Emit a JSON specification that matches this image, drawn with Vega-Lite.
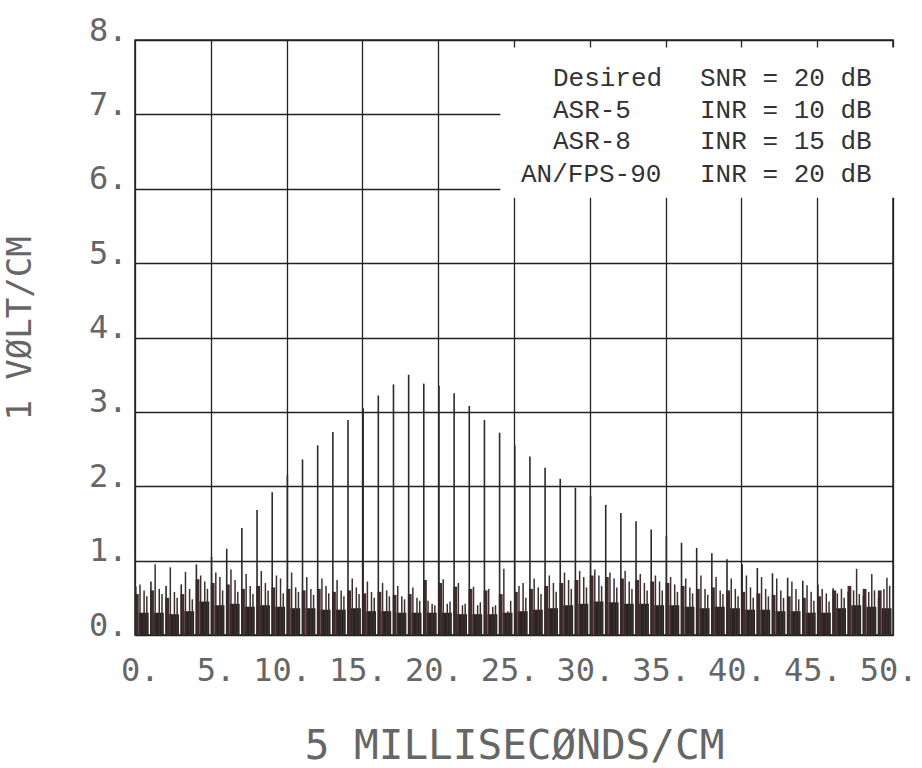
{
  "$schema": "https://vega.github.io/schema/vega-lite/v6.json",
  "width": 758,
  "height": 595,
  "autosize": {"type": "none"},
  "padding": {"left": 135, "top": 40, "right": 29, "bottom": 133},
  "background": "white",
  "config": {
    "view": {"stroke": "#222", "strokeWidth": 1.5},
    "axis": {
      "grid": true, "gridColor": "#222", "gridWidth": 1.3, "gridOpacity": 1,
      "domain": false, "ticks": false,
      "labelFont": "DejaVu Sans Mono", "labelFontSize": 32, "labelColor": "#666",
      "titleFont": "DejaVu Sans Mono", "titleColor": "#666", "titleFontWeight": "normal",
      "labelFlush": false, "labelOverlap": false, "labelBound": false
    }
  },
  "datasets": {
    "desired": [
      {"x":0.05,"y":0.65},{"x":1.05,"y":0.72},{"x":2.05,"y":0.66},{"x":3.05,"y":0.68},{"x":4.05,"y":0.95},{"x":5.05,"y":1.05},{"x":6.05,"y":1.16},{"x":7.05,"y":1.44},{"x":8.05,"y":1.68},{"x":9.05,"y":1.92},{"x":10.05,"y":2.15},{"x":11.05,"y":2.36},{"x":12.05,"y":2.55},{"x":13.05,"y":2.73},{"x":14.05,"y":2.89},{"x":15.05,"y":3.05},{"x":16.05,"y":3.22},{"x":17.05,"y":3.37},{"x":18.05,"y":3.5},{"x":19.05,"y":3.38},{"x":20.05,"y":3.35},{"x":21.05,"y":3.25},{"x":22.05,"y":3.08},{"x":23.05,"y":2.89},{"x":24.05,"y":2.72},{"x":25.05,"y":2.55},{"x":26.05,"y":2.4},{"x":27.05,"y":2.25},{"x":28.05,"y":2.1},{"x":29.05,"y":1.98},{"x":30.05,"y":1.87},{"x":31.05,"y":1.75},{"x":32.05,"y":1.64},{"x":33.05,"y":1.53},{"x":34.05,"y":1.42},{"x":35.05,"y":1.33},{"x":36.05,"y":1.24},{"x":37.05,"y":1.17},{"x":38.05,"y":1.1},{"x":39.05,"y":1.02},{"x":40.05,"y":0.95},{"x":41.05,"y":0.9},{"x":42.05,"y":0.83},{"x":43.05,"y":0.77},{"x":44.05,"y":0.73},{"x":45.05,"y":0.68},{"x":46.05,"y":0.63},{"x":47.05,"y":0.58},{"x":48.05,"y":0.53},{"x":49.05,"y":0.5}
    ],
    "spikes": [
      {"x":0.33,"y":0.68},{"x":0.6,"y":0.6},{"x":1.33,"y":0.95},{"x":1.6,"y":0.62},{"x":2.33,"y":0.91},{"x":2.6,"y":0.58},{"x":3.33,"y":0.85},{"x":3.6,"y":0.62},{"x":4.33,"y":0.8},{"x":4.6,"y":0.72},
      {"x":5.33,"y":0.84},{"x":5.6,"y":0.78},{"x":6.33,"y":0.88},{"x":6.6,"y":0.74},{"x":7.33,"y":0.82},{"x":7.6,"y":0.66},{"x":8.33,"y":0.86},{"x":8.6,"y":0.7},{"x":9.33,"y":0.8},{"x":9.6,"y":0.76},
      {"x":10.33,"y":0.84},{"x":10.6,"y":0.64},{"x":11.33,"y":0.78},{"x":11.6,"y":0.62},{"x":12.33,"y":0.76},{"x":12.6,"y":0.66},{"x":13.33,"y":0.74},{"x":13.6,"y":0.6},{"x":14.33,"y":0.76},{"x":14.6,"y":0.64},
      {"x":15.33,"y":0.72},{"x":15.6,"y":0.58},{"x":16.33,"y":0.7},{"x":16.6,"y":0.6},{"x":17.33,"y":0.66},{"x":17.6,"y":0.52},{"x":18.33,"y":0.64},{"x":18.6,"y":0.5},{"x":19.33,"y":0.46},{"x":19.6,"y":0.42},
      {"x":20.33,"y":0.75},{"x":20.6,"y":0.42},{"x":21.33,"y":0.7},{"x":21.6,"y":0.4},{"x":22.33,"y":0.65},{"x":22.6,"y":0.4},{"x":23.33,"y":0.62},{"x":23.6,"y":0.38},{"x":24.33,"y":0.89},{"x":24.6,"y":0.32},
      {"x":25.33,"y":0.66},{"x":25.6,"y":0.7},{"x":26.33,"y":0.76},{"x":26.6,"y":0.64},{"x":27.33,"y":0.8},{"x":27.6,"y":0.7},{"x":28.33,"y":0.84},{"x":28.6,"y":0.74},{"x":29.33,"y":0.86},{"x":29.6,"y":0.78},
      {"x":30.33,"y":0.88},{"x":30.6,"y":0.8},{"x":31.33,"y":0.84},{"x":31.6,"y":0.76},{"x":32.33,"y":0.86},{"x":32.6,"y":0.72},{"x":33.33,"y":0.82},{"x":33.6,"y":0.7},{"x":34.33,"y":0.8},{"x":34.6,"y":0.72},
      {"x":35.33,"y":0.78},{"x":35.6,"y":0.68},{"x":36.33,"y":0.76},{"x":36.6,"y":0.64},{"x":37.33,"y":0.8},{"x":37.6,"y":0.62},{"x":38.33,"y":0.78},{"x":38.6,"y":0.6},{"x":39.33,"y":0.76},{"x":39.6,"y":0.62},
      {"x":40.33,"y":0.8},{"x":40.6,"y":0.64},{"x":41.33,"y":0.78},{"x":41.6,"y":0.62},{"x":42.33,"y":0.76},{"x":42.6,"y":0.6},{"x":43.33,"y":0.72},{"x":43.6,"y":0.62},{"x":44.33,"y":0.67},{"x":44.6,"y":0.58},
      {"x":45.33,"y":0.62},{"x":45.6,"y":0.56},{"x":46.33,"y":0.56},{"x":46.6,"y":0.62},{"x":47.6,"y":0.89},{"x":47.4,"y":0.6},{"x":48.6,"y":0.82},{"x":48.4,"y":0.58},{"x":49.6,"y":0.77},{"x":49.4,"y":0.62},
      {"x":0.78,"y":0.52},{"x":1.78,"y":0.55},{"x":2.78,"y":0.5},{"x":3.78,"y":0.48},{"x":4.78,"y":0.62},{"x":5.78,"y":0.6},{"x":6.78,"y":0.58},{"x":7.78,"y":0.55},{"x":8.78,"y":0.6},{"x":9.78,"y":0.56},
      {"x":10.78,"y":0.58},{"x":11.78,"y":0.54},{"x":12.78,"y":0.56},{"x":13.78,"y":0.52},{"x":14.78,"y":0.55},{"x":15.78,"y":0.5},{"x":16.78,"y":0.52},{"x":17.78,"y":0.48},{"x":18.78,"y":0.46},{"x":19.78,"y":0.4},
      {"x":20.78,"y":0.45},{"x":21.78,"y":0.42},{"x":22.78,"y":0.44},{"x":23.78,"y":0.4},{"x":24.78,"y":0.46},{"x":25.78,"y":0.5},{"x":26.78,"y":0.55},{"x":27.78,"y":0.58},{"x":28.78,"y":0.62},{"x":29.78,"y":0.64},
      {"x":30.78,"y":0.66},{"x":31.78,"y":0.64},{"x":32.78,"y":0.62},{"x":33.78,"y":0.6},{"x":34.78,"y":0.6},{"x":35.78,"y":0.58},{"x":36.78,"y":0.56},{"x":37.78,"y":0.54},{"x":38.78,"y":0.55},{"x":39.78,"y":0.52},
      {"x":40.78,"y":0.5},{"x":41.78,"y":0.52},{"x":42.78,"y":0.5},{"x":43.78,"y":0.48},{"x":44.78,"y":0.46},{"x":45.78,"y":0.45},{"x":46.78,"y":0.5},{"x":47.78,"y":0.55},{"x":48.78,"y":0.6},{"x":49.78,"y":0.66}
    ],
    "blocks": [
      {"x":0.0,"x2":0.25,"y":0.55,"t":"h"},{"x":0.25,"x2":0.9,"y":0.3,"t":"l"},
      {"x":1.0,"x2":1.25,"y":0.6,"t":"h"},{"x":1.25,"x2":1.9,"y":0.3,"t":"l"},
      {"x":2.0,"x2":2.25,"y":0.5,"t":"h"},{"x":2.25,"x2":2.9,"y":0.28,"t":"l"},
      {"x":3.0,"x2":3.25,"y":0.55,"t":"h"},{"x":3.25,"x2":3.9,"y":0.32,"t":"l"},
      {"x":4.0,"x2":4.25,"y":0.75,"t":"h"},{"x":4.25,"x2":4.9,"y":0.45,"t":"l"},
      {"x":5.0,"x2":5.25,"y":0.7,"t":"h"},{"x":5.25,"x2":5.9,"y":0.4,"t":"l"},
      {"x":6.0,"x2":6.25,"y":0.68,"t":"h"},{"x":6.25,"x2":6.9,"y":0.42,"t":"l"},
      {"x":7.0,"x2":7.25,"y":0.62,"t":"h"},{"x":7.25,"x2":7.9,"y":0.38,"t":"l"},
      {"x":8.0,"x2":8.25,"y":0.66,"t":"h"},{"x":8.25,"x2":8.9,"y":0.4,"t":"l"},
      {"x":9.0,"x2":9.25,"y":0.64,"t":"h"},{"x":9.25,"x2":9.9,"y":0.38,"t":"l"},
      {"x":10.0,"x2":10.25,"y":0.62,"t":"h"},{"x":10.25,"x2":10.9,"y":0.36,"t":"l"},
      {"x":11.0,"x2":11.25,"y":0.6,"t":"h"},{"x":11.25,"x2":11.9,"y":0.36,"t":"l"},
      {"x":12.0,"x2":12.25,"y":0.62,"t":"h"},{"x":12.25,"x2":12.9,"y":0.34,"t":"l"},
      {"x":13.0,"x2":13.25,"y":0.58,"t":"h"},{"x":13.25,"x2":13.9,"y":0.34,"t":"l"},
      {"x":14.0,"x2":14.25,"y":0.6,"t":"h"},{"x":14.25,"x2":14.9,"y":0.36,"t":"l"},
      {"x":15.0,"x2":15.25,"y":0.56,"t":"h"},{"x":15.25,"x2":15.9,"y":0.32,"t":"l"},
      {"x":16.0,"x2":16.25,"y":0.58,"t":"h"},{"x":16.25,"x2":16.9,"y":0.32,"t":"l"},
      {"x":17.0,"x2":17.25,"y":0.54,"t":"h"},{"x":17.25,"x2":17.9,"y":0.3,"t":"l"},
      {"x":18.0,"x2":18.25,"y":0.55,"t":"h"},{"x":18.25,"x2":18.9,"y":0.3,"t":"l"},
      {"x":19.0,"x2":19.25,"y":0.74,"t":"h"},{"x":19.25,"x2":19.9,"y":0.3,"t":"l"},
      {"x":20.0,"x2":20.25,"y":0.7,"t":"h"},{"x":20.25,"x2":20.9,"y":0.3,"t":"l"},
      {"x":21.0,"x2":21.25,"y":0.65,"t":"h"},{"x":21.25,"x2":21.9,"y":0.28,"t":"l"},
      {"x":22.0,"x2":22.25,"y":0.62,"t":"h"},{"x":22.25,"x2":22.9,"y":0.28,"t":"l"},
      {"x":23.0,"x2":23.25,"y":0.6,"t":"h"},{"x":23.25,"x2":23.9,"y":0.28,"t":"l"},
      {"x":24.0,"x2":24.25,"y":0.55,"t":"h"},{"x":24.25,"x2":24.9,"y":0.3,"t":"l"},
      {"x":25.0,"x2":25.25,"y":0.58,"t":"h"},{"x":25.25,"x2":25.9,"y":0.32,"t":"l"},
      {"x":26.0,"x2":26.25,"y":0.62,"t":"h"},{"x":26.25,"x2":26.9,"y":0.34,"t":"l"},
      {"x":27.0,"x2":27.25,"y":0.66,"t":"h"},{"x":27.25,"x2":27.9,"y":0.36,"t":"l"},
      {"x":28.0,"x2":28.25,"y":0.7,"t":"h"},{"x":28.25,"x2":28.9,"y":0.4,"t":"l"},
      {"x":29.0,"x2":29.25,"y":0.74,"t":"h"},{"x":29.25,"x2":29.9,"y":0.42,"t":"l"},
      {"x":30.0,"x2":30.25,"y":0.8,"t":"h"},{"x":30.25,"x2":30.9,"y":0.45,"t":"l"},
      {"x":31.0,"x2":31.25,"y":0.78,"t":"h"},{"x":31.25,"x2":31.9,"y":0.44,"t":"l"},
      {"x":32.0,"x2":32.25,"y":0.76,"t":"h"},{"x":32.25,"x2":32.9,"y":0.42,"t":"l"},
      {"x":33.0,"x2":33.25,"y":0.74,"t":"h"},{"x":33.25,"x2":33.9,"y":0.42,"t":"l"},
      {"x":34.0,"x2":34.25,"y":0.72,"t":"h"},{"x":34.25,"x2":34.9,"y":0.4,"t":"l"},
      {"x":35.0,"x2":35.25,"y":0.7,"t":"h"},{"x":35.25,"x2":35.9,"y":0.4,"t":"l"},
      {"x":36.0,"x2":36.25,"y":0.66,"t":"h"},{"x":36.25,"x2":36.9,"y":0.38,"t":"l"},
      {"x":37.0,"x2":37.25,"y":0.62,"t":"h"},{"x":37.25,"x2":37.9,"y":0.36,"t":"l"},
      {"x":38.0,"x2":38.25,"y":0.64,"t":"h"},{"x":38.25,"x2":38.9,"y":0.38,"t":"l"},
      {"x":39.0,"x2":39.25,"y":0.6,"t":"h"},{"x":39.25,"x2":39.9,"y":0.36,"t":"l"},
      {"x":40.0,"x2":40.25,"y":0.58,"t":"h"},{"x":40.25,"x2":40.9,"y":0.34,"t":"l"},
      {"x":41.0,"x2":41.25,"y":0.56,"t":"h"},{"x":41.25,"x2":41.9,"y":0.34,"t":"l"},
      {"x":42.0,"x2":42.25,"y":0.54,"t":"h"},{"x":42.25,"x2":42.9,"y":0.32,"t":"l"},
      {"x":43.0,"x2":43.25,"y":0.52,"t":"h"},{"x":43.25,"x2":43.9,"y":0.32,"t":"l"},
      {"x":44.0,"x2":44.25,"y":0.5,"t":"h"},{"x":44.25,"x2":44.9,"y":0.3,"t":"l"},
      {"x":45.0,"x2":45.25,"y":0.52,"t":"h"},{"x":45.25,"x2":45.9,"y":0.3,"t":"l"},
      {"x":46.0,"x2":46.25,"y":0.6,"t":"h"},{"x":46.25,"x2":46.9,"y":0.36,"t":"l"},
      {"x":47.0,"x2":47.25,"y":0.66,"t":"h"},{"x":47.25,"x2":47.9,"y":0.4,"t":"l"},
      {"x":48.0,"x2":48.25,"y":0.62,"t":"h"},{"x":48.25,"x2":48.9,"y":0.38,"t":"l"},
      {"x":49.0,"x2":49.25,"y":0.6,"t":"h"},{"x":49.25,"x2":49.9,"y":0.36,"t":"l"}
    ],
    "box": [{"x":24.1,"x2":50.5,"y":5.88,"y2":7.9}],
    "legend": [
      {"x":27.57,"y":7.386,"t":"Desired"},{"x":27.57,"y":6.947,"t":"ASR-5"},{"x":27.57,"y":6.53,"t":"ASR-8"},{"x":25.46,"y":6.087,"t":"AN/FPS-90"},
      {"x":37.27,"y":7.386,"t":"SNR = 20 dB"},{"x":37.27,"y":6.947,"t":"INR = 10 dB"},{"x":37.27,"y":6.53,"t":"INR = 15 dB"},{"x":37.27,"y":6.087,"t":"INR = 20 dB"}
    ]
  },
  "encoding": {
    "x": {"field": "x", "type": "quantitative", "scale": {"domain": [0, 50], "nice": false, "zero": false},
      "axis": {"values": [0,5,10,15,20,25,30,35,40,45,50], "title": "5 MILLISECØNDS/CM", "titleFontSize": 41,
        "titleX": 379, "titleY": 123, "titleBaseline": "alphabetic", "titleAlign": "center",
        "labelExpr": "datum.label + '.'", "labelAlign": "right", "labelOffset": 24, "labelPadding": 45, "labelBaseline": "alphabetic"}},
    "y": {"field": "y", "type": "quantitative", "scale": {"domain": [0, 8], "nice": false, "zero": false},
      "axis": {"values": [0,1,2,3,4,5,6,7,8], "title": "1 VØLT/CM", "titleFontSize": 34, "titleAngle": -90,
        "titleX": -105, "titleY": 288, "titleBaseline": "alphabetic", "titleAlign": "center",
        "labelExpr": "datum.label + '.'", "labelAlign": "right", "labelPadding": 8, "labelBaseline": "alphabetic"}}
  },
  "layer": [
    {
      "data": {"name": "box"},
      "mark": {"type": "rect", "fill": "white", "stroke": null},
      "encoding": {"x2": {"field": "x2"}, "y2": {"field": "y2"}}
    },
    {
      "data": {"name": "blocks"},
      "mark": {"type": "rect"},
      "encoding": {
        "x2": {"field": "x2"},
        "y2": {"datum": 0},
        "color": {"field": "t", "type": "nominal", "scale": {"domain": ["h", "l"], "range": ["#4a2a2e", "#2a2222"]}, "legend": null}
      }
    },
    {
      "data": {"name": "spikes"},
      "mark": {"type": "rule", "color": "#3a3030", "strokeWidth": 1.5},
      "encoding": {"y2": {"datum": 0}}
    },
    {
      "data": {"name": "desired"},
      "mark": {"type": "rule", "color": "#2a2a2a", "strokeWidth": 1.6},
      "encoding": {"y2": {"datum": 0}}
    },
    {
      "data": {"name": "legend"},
      "mark": {"type": "text", "font": "Liberation Mono", "fontSize": 26, "color": "#333", "align": "left", "baseline": "alphabetic"},
      "encoding": {"text": {"field": "t"}}
    }
  ]
}
